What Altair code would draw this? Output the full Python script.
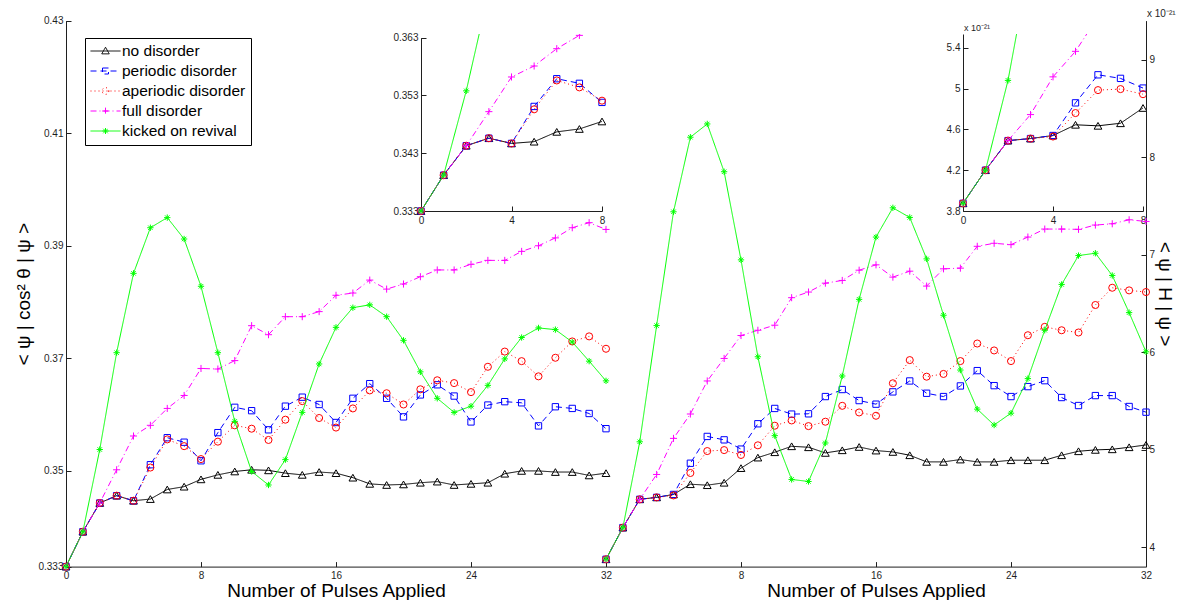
import altair as alt
import pandas as pd

FONT = "Liberation Sans"
INK = "#1f1f1f"

SERIES = ["no disorder", "periodic disorder", "aperiodic disorder",
          "full disorder", "kicked on revival"]
PULSES = list(range(33))

# left panel: < psi | cos^2 theta | psi >
COS_NO = [0.3330, 0.3392, 0.3443, 0.3456, 0.3447, 0.3450, 0.3467, 0.3472, 0.3485,
          0.3493, 0.3499, 0.3502, 0.3501, 0.3496, 0.3493, 0.3498, 0.3496, 0.3488,
          0.3477, 0.3475, 0.3476, 0.3479, 0.3481, 0.3475, 0.3477, 0.3479, 0.3495,
          0.3500, 0.3500, 0.3498, 0.3498, 0.3492, 0.3496]
COS_PER = [0.3330, 0.3392, 0.3443, 0.3456, 0.3447, 0.3511, 0.3559, 0.3551, 0.3518,
           0.3568, 0.3613, 0.3607, 0.3573, 0.3615, 0.3631, 0.3618, 0.3586, 0.3629,
           0.3655, 0.3629, 0.3596, 0.3635, 0.3653, 0.3633, 0.3587, 0.3617, 0.3623,
           0.3621, 0.3580, 0.3614, 0.3611, 0.3602, 0.3575]
COS_APER = [0.3330, 0.3392, 0.3443, 0.3456, 0.3447, 0.3506, 0.3556, 0.3544, 0.3521,
            0.3552, 0.3581, 0.3575, 0.3555, 0.3591, 0.3624, 0.3594, 0.3577, 0.3611,
            0.3643, 0.3638, 0.3618, 0.3645, 0.3661, 0.3656, 0.3640, 0.3685, 0.3712,
            0.3695, 0.3668, 0.3701, 0.3730, 0.3739, 0.3717]
COS_FULL = [0.3330, 0.3392, 0.3443, 0.3502, 0.3562, 0.3581, 0.3611, 0.3634, 0.3682,
            0.3681, 0.3696, 0.3758, 0.3742, 0.3774, 0.3774, 0.3783, 0.3812, 0.3816,
            0.3839, 0.3823, 0.3832, 0.3845, 0.3857, 0.3857, 0.3867, 0.3874, 0.3874,
            0.3890, 0.3900, 0.3914, 0.3932, 0.3941, 0.3929]
COS_KICK = [0.3330, 0.3392, 0.3538, 0.3710, 0.3851, 0.3932, 0.3950, 0.3912, 0.3828,
            0.3710, 0.3588, 0.3499, 0.3475, 0.3520, 0.3604, 0.3690, 0.3755, 0.3790,
            0.3795, 0.3774, 0.3732, 0.3676, 0.3629, 0.3604, 0.3615, 0.3652, 0.3699,
            0.3737, 0.3754, 0.3751, 0.3729, 0.3695, 0.3660]

# right panel: < psi | H | psi >  (x 1e-21)
H_NO = [3.875, 4.200, 4.490, 4.510, 4.540, 4.645, 4.635, 4.660, 4.810, 4.918, 4.973,
        5.034, 5.024, 4.966, 4.993, 5.027, 4.990, 4.976, 4.942, 4.874, 4.874, 4.898,
        4.874, 4.874, 4.891, 4.891, 4.891, 4.942, 4.983, 4.997, 5.003, 5.024, 5.048]
H_PER = [3.875, 4.200, 4.490, 4.510, 4.540, 4.860, 5.135, 5.100, 5.005, 5.265, 5.422,
         5.364, 5.367, 5.544, 5.616, 5.503, 5.466, 5.592, 5.704, 5.578, 5.544, 5.653,
         5.810, 5.656, 5.544, 5.646, 5.707, 5.534, 5.452, 5.554, 5.554, 5.442, 5.384]
H_APER = [3.875, 4.200, 4.490, 4.510, 4.530, 4.760, 4.985, 4.995, 4.945, 5.044, 5.245,
          5.299, 5.241, 5.286, 5.449, 5.381, 5.347, 5.680, 5.918, 5.748, 5.776, 5.908,
          6.088, 6.017, 5.908, 6.173, 6.259, 6.224, 6.201, 6.483, 6.660, 6.633, 6.616]
H_FULL = [3.875, 4.200, 4.490, 4.745, 5.115, 5.365, 5.704, 5.935, 6.170, 6.224, 6.276,
          6.558, 6.616, 6.707, 6.735, 6.840, 6.895, 6.769, 6.830, 6.677, 6.854, 6.861,
          7.085, 7.116, 7.102, 7.180, 7.262, 7.262, 7.259, 7.303, 7.316, 7.357, 7.340]
H_KICK = [3.875, 4.200, 5.080, 6.272, 7.439, 8.204, 8.340, 7.850, 6.946, 5.952, 5.143,
          4.694, 4.673, 5.068, 5.755, 6.541, 7.180, 7.480, 7.381, 6.956, 6.378, 5.816,
          5.415, 5.252, 5.374, 5.728, 6.224, 6.694, 6.990, 7.014, 6.786, 6.405, 6.003]

COS_VALUES = [COS_NO, COS_PER, COS_APER, COS_FULL, COS_KICK]
H_VALUES = [H_NO, H_PER, H_APER, H_FULL, H_KICK]

X_DOMAIN = [0, 32]
INSET_X_DOMAIN = [0, 8]
COS_DOMAIN = [0.333, 0.43]
H_DOMAIN = [3.8, 9.4]
COS_INSET_DOMAIN = [0.333, 0.363]
H_INSET_DOMAIN = [3.8, 5.535]

X_TICKS = [0, 8, 16, 24, 32]
X_TICKS_R = [8, 16, 24, 32]
INSET_X_TICKS = [0, 4, 8]
COS_TICKS = [0.333, 0.35, 0.37, 0.39, 0.41, 0.43]
H_TICKS = [4, 5, 6, 7, 8, 9]
COS_INSET_TICKS = [0.333, 0.343, 0.353, 0.363]
H_INSET_TICKS = [3.8, 4.2, 4.6, 5.0, 5.4]

Y_TITLE_L = "< ψ | cos² θ | ψ >"
Y_TITLE_R = "< ψ | H | ψ >"
X_TITLE = "Number of Pulses Applied"
EXPONENT = "x 10⁻²¹"

# ---- styles ----
COLORS = ["#000000", "#0000ff", "#ff0000", "#ff00ff", "#00ff00"]
DASHES = [[1, 0], [6, 4], [1, 3], [6, 3, 1, 3], [1, 0]]
PLUS = "M-1,0H1M0,-1V1"
STAR = "M-1,0H1M0,-1V1M-0.7,-0.7L0.7,0.7M-0.7,0.7L0.7,-0.7"
MARKERS = ["triangle-up", "square", "circle", PLUS, STAR]
MSIZES = [60, 40, 50, 50, 40]
LEGEND_SHAPES = [
    "M-2,0H2M0,-0.5L0.5,0.38L-0.5,0.38Z",
    "M-2,0H2M-0.4,-0.4H0.4V0.4H-0.4Z",
    "M-2,0H2M0.45,0A0.45,0.45,0,1,1,-0.45,0A0.45,0.45,0,1,1,0.45,0",
    "M-2,0H2M-0.45,0H0.45M0,-0.45V0.45",
    "M-2,0H2M-0.4,0H0.4M0,-0.4V0.4M-0.3,-0.3L0.3,0.3M-0.3,0.3L0.3,-0.3",
]

PW, PH = 540, 546          # main panel plot size
IH, IB = 185, 177          # inset group height, inset axis bottom
MH = 565.6 - 218           # main group height below the inset row
MTOP = MH - PH             # main plot top relative to main group
IL_X0, IR_X0 = 355, 357    # inset left edges inside their panels
IW = 181


def axis(**kw):
    base = dict(grid=False, labelFont=FONT, labelFontSize=10, labelColor=INK,
                domainColor=INK, domainWidth=1, tickColor=INK, tickWidth=1,
                labelFlush=False, labelOverlap=False, titleFont=FONT,
                titleFontSize=19, titleFontWeight="normal", titleColor="black")
    base.update(kw)
    return alt.Axis(**base)


def label_axis(orient, values, fmt, offset=0, title=None, title_pad=4, pad=3):
    return axis(orient=orient, values=values, format=fmt, ticks=False, tickSize=0,
                domain=True, labelPadding=pad, offset=offset, title=title,
                titlePadding=title_pad)


def tick_axis(orient, values, offset):
    return axis(orient=orient, values=values, offset=offset, labels=False,
                domain=False, ticks=True, tickSize=5, title=None)


def series_layers(values, npts, xs, ys, x_lab, y_lab, x_tick, y_tick, clip):
    layers = []
    for i, s in enumerate(SERIES):
        d = pd.DataFrame({"pulse": PULSES[:npts], "val": values[i][:npts]})
        base = alt.Chart(d)
        line = base.mark_line(color=COLORS[i], strokeDash=DASHES[i], strokeWidth=1,
                              clip=clip).encode(
            x=alt.X("pulse:Q", scale=xs, axis=x_lab if i == 0 else None),
            y=alt.Y("val:Q", scale=ys, axis=y_lab if i == 0 else None))
        pts = base.mark_point(shape=MARKERS[i], size=MSIZES[i], filled=False,
                              color=COLORS[i], strokeWidth=1, opacity=1,
                              clip=clip).encode(
            x=alt.X("pulse:Q", scale=xs, axis=x_tick if i == 0 else None),
            y=alt.Y("val:Q", scale=ys, axis=y_tick if i == 0 else None))
        layers += [line, pts]
    return layers


def exponent_layer(x, y, xs, ys, size, dy):
    d = pd.DataFrame({"pulse": [x], "val": [y], "t": [EXPONENT]})
    return alt.Chart(d).mark_text(align="left", baseline="alphabetic", dx=1, dy=dy,
                                  font=FONT, fontSize=size, color=INK).encode(
        x=alt.X("pulse:Q", scale=xs, axis=None),
        y=alt.Y("val:Q", scale=ys, axis=None),
        text="t:N")


# ---- left main ----
xsL = alt.Scale(domain=X_DOMAIN, range=[0, PW], nice=False, zero=False)
ysL = alt.Scale(domain=COS_DOMAIN, range=[MH, MTOP], nice=False, zero=False)
layersL = series_layers(
    COS_VALUES, 33, xsL, ysL,
    label_axis("bottom", X_TICKS, "d", title=X_TITLE, title_pad=1, pad=4),
    label_axis("left", COS_TICKS, ".3~f", title=Y_TITLE_L, title_pad=4),
    tick_axis("top", X_TICKS, -MH),
    tick_axis("right", COS_TICKS, -PW),
    clip=False)

leg = alt.Legend(title=None, orient="none", legendX=19, legendY=37 - 218, padding=5,
                 strokeColor="black", fillColor="white", labelFont=FONT,
                 labelFontSize=15.5, labelColor="black", rowPadding=3,
                 symbolSize=225, symbolStrokeWidth=1, symbolOffset=7.5,
                 labelOffset=8.5)
legend_layer = alt.Chart(pd.DataFrame({"series": SERIES})).transform_filter(
    "false").mark_point(filled=False, size=225, opacity=1, strokeWidth=1).encode(
    color=alt.Color("series:N", scale=alt.Scale(domain=SERIES, range=COLORS), legend=leg),
    shape=alt.Shape("series:N", scale=alt.Scale(domain=SERIES, range=LEGEND_SHAPES), legend=leg),
    strokeDash=alt.StrokeDash("series:N", scale=alt.Scale(domain=SERIES, range=DASHES), legend=leg),
)
mainL = alt.layer(*layersL, legend_layer).resolve_axis(
    x="independent", y="independent").properties(width=PW, height=MH)

# ---- right main ----
xsR = alt.Scale(domain=X_DOMAIN, range=[0, PW], nice=False, zero=False)
ysR = alt.Scale(domain=H_DOMAIN, range=[MH, MTOP], nice=False, zero=False)
layersR = series_layers(
    H_VALUES, 33, xsR, ysR,
    label_axis("bottom", X_TICKS_R, "d", title=X_TITLE, title_pad=1, pad=4),
    label_axis("right", H_TICKS, "d", title=Y_TITLE_R, title_pad=0, pad=3),
    tick_axis("top", X_TICKS, -MH),
    tick_axis("left", H_TICKS, -PW),
    clip=False)
mainR = alt.layer(*layersR, exponent_layer(X_DOMAIN[1], H_DOMAIN[1], xsR, ysR, 10, -4)
                  ).resolve_axis(x="independent", y="independent").properties(width=PW, height=MH)

# ---- left inset ----
xsIL = alt.Scale(domain=INSET_X_DOMAIN, range=[IL_X0, IL_X0 + IW], nice=False, zero=False)
ysIL = alt.Scale(domain=COS_INSET_DOMAIN, range=[IB, 3.7], nice=False, zero=False)
layersIL = series_layers(
    COS_VALUES, 9, xsIL, ysIL,
    label_axis("bottom", INSET_X_TICKS, "d", offset=IB - IH, pad=4),
    label_axis("left", COS_INSET_TICKS, ".3f", offset=-IL_X0),
    tick_axis("top", INSET_X_TICKS, -IB),
    tick_axis("right", COS_INSET_TICKS, -(PW - IL_X0)),
    clip=True)
insetL = alt.layer(*layersIL).resolve_axis(
    x="independent", y="independent").properties(width=PW, height=IH)

# ---- right inset ----
xsIR = alt.Scale(domain=INSET_X_DOMAIN, range=[IR_X0, IR_X0 + IW - 1], nice=False, zero=False)
ysIR = alt.Scale(domain=H_INSET_DOMAIN, range=[IB, 0], nice=False, zero=False)
layersIR = series_layers(
    H_VALUES, 9, xsIR, ysIR,
    label_axis("bottom", INSET_X_TICKS, "d", offset=IB - IH, pad=4),
    label_axis("left", H_INSET_TICKS, "~g", offset=-IR_X0),
    tick_axis("top", INSET_X_TICKS, -IB),
    tick_axis("right", H_INSET_TICKS, -(PW - IR_X0)),
    clip=True)
insetR = alt.layer(*layersIR, exponent_layer(0, H_INSET_DOMAIN[1], xsIR, ysIR, 9, -3)
                   ).resolve_axis(x="independent", y="independent").properties(width=PW, height=IH)

chart = alt.concat(
    insetL, insetR, mainL, mainR, columns=2,
    spacing={"row": 0, "column": 0}, bounds="flush",
).resolve_scale(
    color="independent", shape="independent", strokeDash="independent"
).properties(
    padding={"left": 6, "top": 0, "right": 3, "bottom": 0}
).configure(font=FONT).configure_view(strokeWidth=0)

chart.save("out.html", embed_options={"renderer": "svg", "actions": False})
